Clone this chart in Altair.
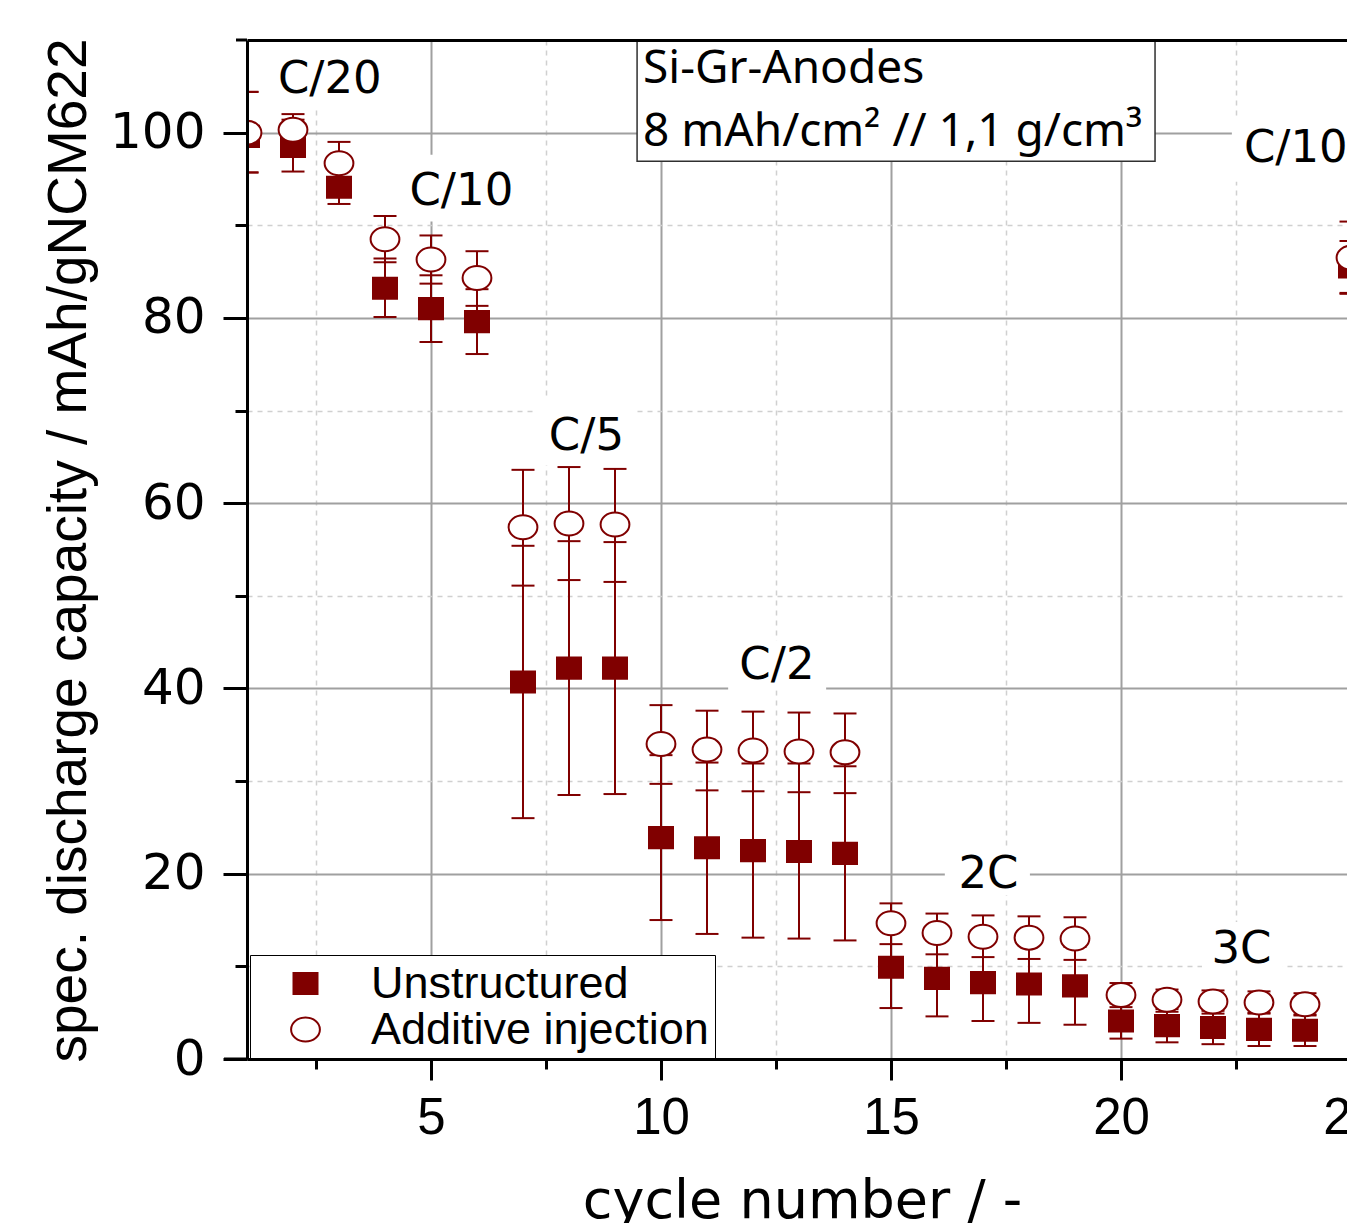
import altair as alt
import pandas as pd

# ---------------- data ----------------
cycles = list(range(1, 26))
unstructured = [99.6, 98.5, 94.1, 83.2, 81.0, 79.6, 40.7, 42.2, 42.2, 23.9, 22.8, 22.5, 22.4, 22.2,
                9.9, 8.7, 8.25, 8.1, 7.9, 4.1, 3.6, 3.4, 3.2, 3.1, 85.5]
unstructured_lo = [95.7, 95.8, 92.3, 80.1, 77.4, 76.1, 26.0, 28.5, 28.6, 15.0, 13.5, 13.1, 13.0, 12.8,
                   5.5, 4.6, 4.1, 3.9, 3.7, 2.2, 1.8, 1.6, 1.4, 1.4, 82.7]
unstructured_hi = [104.4, 101.4, 95.9, 86.4, 84.6, 83.1, 55.4, 55.9, 55.8, 32.8, 32.0, 31.9, 31.9, 31.6,
                   14.3, 12.8, 12.4, 12.3, 12.1, 6.0, 5.4, 5.2, 5.0, 4.8, 88.3]
additive = [100.0, 100.3, 96.7, 88.5, 86.3, 84.3, 57.4, 57.8, 57.7, 34.0, 33.4, 33.3, 33.2, 33.1,
            14.65, 13.6, 13.2, 13.1, 13.0, 6.9, 6.4, 6.2, 6.1, 5.9, 86.5]
additive_lo = [95.7, 98.6, 94.4, 86.0, 83.7, 81.3, 51.1, 51.7, 51.5, 29.7, 29.0, 28.9, 28.8, 28.7,
               12.4, 11.3, 11.0, 10.8, 10.7, 5.6, 5.1, 4.9, 4.9, 4.7, 82.6]
additive_hi = [104.4, 102.0, 99.0, 91.0, 88.9, 87.2, 63.6, 63.9, 63.7, 38.2, 37.6, 37.5, 37.4, 37.3,
               16.8, 15.7, 15.5, 15.4, 15.3, 8.2, 7.5, 7.4, 7.3, 7.1, 90.4]
series_names = ["Unstructured", "Additive injection"]

rate_labels = ["C/20", "C/10", "C/5", "C/2", "2C", "3C", "C/10"]
rate_x = [2.80, 5.66, 8.38, 12.52, 17.12, 22.62, 23.80]
rate_y = [104.3, 92.2, 65.7, 41.0, 18.5, 10.4, 96.8]
box_x1 = [1.46, 4.33, 7.30, 11.46, 16.17, 21.76, 22.41]
box_x2 = [4.15, 6.98, 9.43, 13.59, 18.02, 23.52, 25.20]
box_y1 = [102.5, 90.4, 64.1, 39.8, 17.7, 9.6, 94.7]
box_y2 = [109.8, 97.6, 71.2, 45.2, 22.6, 14.8, 101.7]

info_lines = ["Si-Gr-Anodes", "8 mAh/cm² // 1,1 g/cm³"]
info_x = [9.61, 9.61]
info_y = [105.4, 98.6]
info_box = {"x1": [9.48], "x2": [20.74], "y1": [96.9], "y2": [110.0]}

x_major = [5, 10, 15, 20, 25]
x_minor = [2.5, 7.5, 12.5, 17.5, 22.5]
y_major = [0, 20, 40, 60, 80, 100]
y_minor = [10, 30, 50, 70, 90]

# ---------------- frames ----------------
pts = pd.DataFrame({
    "cycle": cycles * 2,
    "cap": unstructured + additive,
    "lo": unstructured_lo + additive_lo,
    "hi": unstructured_hi + additive_hi,
    "series": [series_names[0]] * len(cycles) + [series_names[1]] * len(cycles),
})
rates = pd.DataFrame({"label": rate_labels, "x": rate_x, "y": rate_y,
                      "x1": box_x1, "x2": box_x2, "y1": box_y1, "y2": box_y2})
info = pd.DataFrame({"text": info_lines, "x": info_x, "y": info_y})
infobox = pd.DataFrame(info_box)

W, H = 1108, 1019
RED = "#800000"
FONT = "Liberation Sans"
WIDE = "DejaVu Sans"
SQUARE = "M-1,-0.88L1,-0.88L1,0.88L-1,0.88Z"
ELLIPSE = "M-1.2,0A1.2,1,0,1,1,1.2,0A1.2,1,0,1,1,-1.2,0Z"

xs = alt.Scale(domain=[1, 25.087], nice=False, zero=False)
ys = alt.Scale(domain=[0, 110], nice=False)

grid_major_x = alt.Axis(orient="bottom", values=x_major, grid=True, gridColor="#a0a0a0", gridWidth=2,
                        domain=False, ticks=False, labels=False, title=None, zindex=0)
grid_major_y = alt.Axis(orient="left", values=y_major, grid=True, gridColor="#a0a0a0", gridWidth=2,
                        domain=False, ticks=False, labels=False, title=None, zindex=0)
minor_x = alt.Axis(orient="bottom", values=x_minor, grid=True, gridColor="#d0d0d0", gridWidth=1.5,
                   gridDash=[5, 5], domain=False, ticks=True, tickSize=10, tickWidth=3,
                   tickColor="black", labels=False, title=None, zindex=0)
minor_y = alt.Axis(orient="left", values=y_minor, grid=True, gridColor="#d0d0d0", gridWidth=1.5,
                   gridDash=[5, 5], domain=False, ticks=True, tickSize=12, tickWidth=3,
                   tickColor="black", labels=False, title=None, zindex=0)
main_x = alt.Axis(orient="bottom", values=x_major, grid=False, domain=True, domainColor="black",
                  domainWidth=3, ticks=True, tickSize=21, tickWidth=3, tickColor="black",
                  labelFont=FONT, labelFontSize=51, labelColor="black", labelPadding=13,
                  labelFlush=False, labelOverlap=False, format="d",
                  title="cycle number / -", titleFont=WIDE, titleFontSize=54,
                  titleFontWeight="normal", titleColor="black", titleX=555, titleY=158,
                  titleBaseline="alphabetic", titleAlign="center", zindex=1)
main_y = alt.Axis(orient="left", values=y_major, grid=False, domain=True, domainColor="black",
                  domainWidth=3, ticks=True, tickSize=24, tickWidth=3, tickColor="black",
                  labelFont=WIDE, labelFontSize=50, labelColor="black", labelPadding=18,
                  labelFlush=False, labelOverlap=False, format="d",
                  title="spec. discharge capacity / mAh/gNCM622", titleFont=FONT,
                  titleFontSize=55, titleFontWeight="normal", titleColor="black",
                  titleAngle=270, titleX=-162, titleY=510, titleBaseline="alphabetic",
                  titleAlign="center", zindex=1)
top_x = alt.Axis(orient="top", grid=False, domain=True, domainColor="black", domainWidth=3,
                 ticks=False, labels=False, title=None, zindex=1)

boxes = alt.Chart(rates).mark_rect(fill="white", clip=True).encode(
    x=alt.X("x1:Q", scale=xs, axis=grid_major_x), x2="x2:Q",
    y=alt.Y("y1:Q", scale=ys, axis=grid_major_y), y2="y2:Q")

infobox_l = alt.Chart(infobox).mark_rect(fill="white", stroke="#303030", strokeWidth=1.5).encode(
    x=alt.X("x1:Q", scale=xs, axis=minor_x), x2="x2:Q",
    y=alt.Y("y1:Q", scale=ys, axis=minor_y), y2="y2:Q")

bars = alt.Chart(pts).mark_rule(color=RED, strokeWidth=2, clip=True).encode(
    x=alt.X("cycle:Q", scale=xs, axis=main_x),
    y=alt.Y("lo:Q", scale=ys, axis=main_y), y2="hi:Q")

caps_lo = alt.Chart(pts).mark_tick(orient="horizontal", size=23, thickness=2, color=RED,
                                   opacity=1, clip=True).encode(
    x=alt.X("cycle:Q", scale=xs, axis=top_x),
    y=alt.Y("lo:Q", scale=ys, axis=None))
caps_hi = alt.Chart(pts).mark_tick(orient="horizontal", size=23, thickness=2, color=RED,
                                   opacity=1, clip=True).encode(
    x=alt.X("cycle:Q", scale=xs, axis=None),
    y=alt.Y("hi:Q", scale=ys, axis=None))

legend = alt.Legend(title=None, orient="none", legendX=3, legendY=915, direction="vertical",
                    fillColor="white", strokeColor="black", padding=6, symbolOffset=27,
                    labelOffset=43, labelFontSize=45, labelFont=FONT, labelColor="black",
                    labelLimit=600, rowPadding=0, symbolSize=576, symbolStrokeWidth=2,
                    symbolOpacity=1)
points = alt.Chart(pts).mark_point(filled=True, size=576, strokeWidth=2, opacity=1,
                                   clip=True).encode(
    x=alt.X("cycle:Q", scale=xs, axis=None),
    y=alt.Y("cap:Q", scale=ys, axis=None),
    shape=alt.Shape("series:N", scale=alt.Scale(domain=series_names, range=[SQUARE, ELLIPSE]),
                    legend=legend),
    fill=alt.Fill("series:N", scale=alt.Scale(domain=series_names, range=[RED, "white"]),
                  legend=legend),
    stroke=alt.Stroke("series:N", scale=alt.Scale(domain=series_names, range=[RED, RED]),
                      legend=legend),
)

rate_text = alt.Chart(rates).mark_text(font=WIDE, fontSize=45, baseline="alphabetic",
                                       align="center", color="black").encode(
    x=alt.X("x:Q", scale=xs, axis=None), y=alt.Y("y:Q", scale=ys, axis=None), text="label:N")

info_text = alt.Chart(info).mark_text(font="Noto Sans", fontSize=46, baseline="alphabetic",
                                      align="left", color="black").encode(
    x=alt.X("x:Q", scale=xs, axis=None), y=alt.Y("y:Q", scale=ys, axis=None), text="text:N")

top_ext = alt.Chart(infobox).mark_rule(color="black", strokeWidth=3).encode(
    x=alt.value(-11), x2=alt.value(0), y=alt.value(0))
bot_ext = alt.Chart(infobox).mark_rule(color="black", strokeWidth=3).encode(
    x=alt.value(-23), x2=alt.value(0), y=alt.value(H))

chart = alt.layer(
    boxes, infobox_l, bars, caps_lo, caps_hi, points, rate_text, info_text, top_ext, bot_ext
).resolve_axis(x="independent", y="independent").properties(
    width=W, height=H,
    autosize=alt.AutoSizeParams(type="none"),
    padding={"left": 239, "top": 32, "right": -8, "bottom": 164},
    background="white",
).configure_view(stroke=None)

chart.save("out.html", embed_options={"renderer": "svg", "actions": False})
